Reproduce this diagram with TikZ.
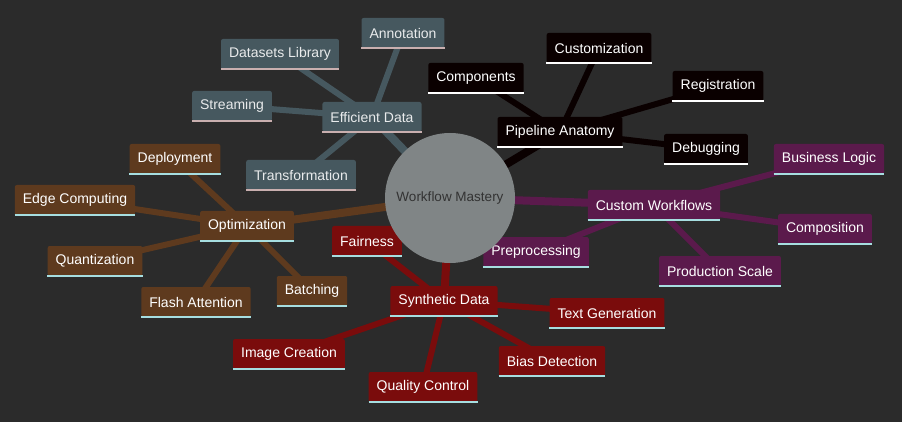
\documentclass[tikz,border=0pt]{standalone}
\usepackage{fontspec}
\setmainfont{Liberation Sans}
\pgfdeclarelayer{bgl}\pgfdeclarelayer{back}\pgfsetlayers{bgl,back,main}
\definecolor{bg}{HTML}{2B2B2B}
\definecolor{slate}{HTML}{46585F}
\definecolor{blk}{HTML}{0A0000}
\definecolor{pur}{HTML}{5B1A4C}
\definecolor{brn}{HTML}{5E3A1E}
\definecolor{rdd}{HTML}{7A0C0C}
\definecolor{ulp}{HTML}{C9AFAF}
\definecolor{ulc}{HTML}{A6DEE0}
\definecolor{cgr}{HTML}{808586}
\begin{document}
\begin{tikzpicture}[x=1pt,y=-1pt,
  box/.style={rounded corners=2pt,inner xsep=8pt,minimum height=30pt,text=white,font=\fontsize{14}{16}\selectfont},
  sl/.style={box,fill=slate,text=white!88!slate},
  bk/.style={box,fill=blk},
  pu/.style={box,fill=pur},
  br/.style={box,fill=brn},
  rd/.style={box,fill=rdd},
  e/.style={line width=8pt},
  es/.style={line width=6pt}]
\begin{pgfonlayer}{bgl}
\fill[bg] (0,0) rectangle (902,422);
\end{pgfonlayer}
\useasboundingbox (0,0) rectangle (902,422);
% nodes
\node[sl] (ed) at (372,117) {Efficient Data};
\node[sl] (an) at (403,33) {Annotation};
\node[sl] (dl) at (280,54) {Datasets Library};
\node[sl] (st) at (232,106) {Streaming};
\node[sl] (tr) at (301,175) {Transformation};
\node[bk] (pa) at (560,132) {Pipeline Anatomy};
\node[bk] (co) at (476,78) {Components};
\node[bk] (cu) at (599,48) {Customization};
\node[bk] (re) at (718,86) {Registration};
\node[bk] (de) at (706,149) {Debugging};
\node[pu] (cw) at (654,205) {Custom Workflows};
\node[pu] (bl) at (829,159) {Business Logic};
\node[pu] (cp) at (825,229) {Composition};
\node[pu] (ps) at (720,271) {Production Scale};
\node[pu] (pp) at (536,252) {Preprocessing};
\node[br] (op) at (247,226) {Optimization};
\node[br] (dp) at (175,159) {Deployment};
\node[br] (ec) at (75,200) {Edge Computing};
\node[br] (qu) at (95,261) {Quantization};
\node[br] (fa) at (196,302) {Flash Attention};
\node[br] (ba) at (312,291) {Batching};
\node[rd] (sd) at (444,301) {Synthetic Data};
\node[rd] (fr) at (367,241) {Fairness};
\node[rd] (tg) at (607,313) {Text Generation};
\node[rd] (bd) at (552,361) {Bias Detection};
\node[rd] (qc) at (423,387) {Quality Control};
\node[rd] (ic) at (289,354) {Image Creation};
\node[circle,fill=cgr,minimum size=130pt,text=black!80,font=\fontsize{13.5}{15}\selectfont] (c) at (450,198) {Workflow Mastery};
\begin{pgfonlayer}{back}
\draw[e,slate] (c.center)--(ed.center);
\foreach \n in {an,dl,st,tr} \draw[es,slate] (ed.center)--(\n.center);
\draw[e,blk] (c.center)--(pa.center);
\foreach \n in {co,cu,re,de} \draw[es,blk] (pa.center)--(\n.center);
\draw[e,pur] (c.center)--(cw.center);
\foreach \n in {bl,cp,ps,pp} \draw[es,pur] (cw.center)--(\n.center);
\draw[e,brn] (c.center)--(op.center);
\foreach \n in {dp,ec,qu,fa,ba} \draw[es,brn] (op.center)--(\n.center);
\draw[e,rdd] (c.center)--(sd.center);
\foreach \n in {fr,tg,bd,qc,ic} \draw[es,rdd] (sd.center)--(\n.center);
\end{pgfonlayer}
% underlines
\foreach \n in {ed,an,dl,st,tr} \draw[ulp,line width=2pt] (\n.south west)--(\n.south east);
\foreach \n in {pa,co,cu,re,de} \draw[white,line width=2pt] (\n.south west)--(\n.south east);
\foreach \n in {cw,bl,cp,ps,pp,op,dp,ec,qu,fa,ba,sd,fr,tg,bd,qc,ic} \draw[ulc,line width=2pt] (\n.south west)--(\n.south east);
\end{tikzpicture}
\end{document}
